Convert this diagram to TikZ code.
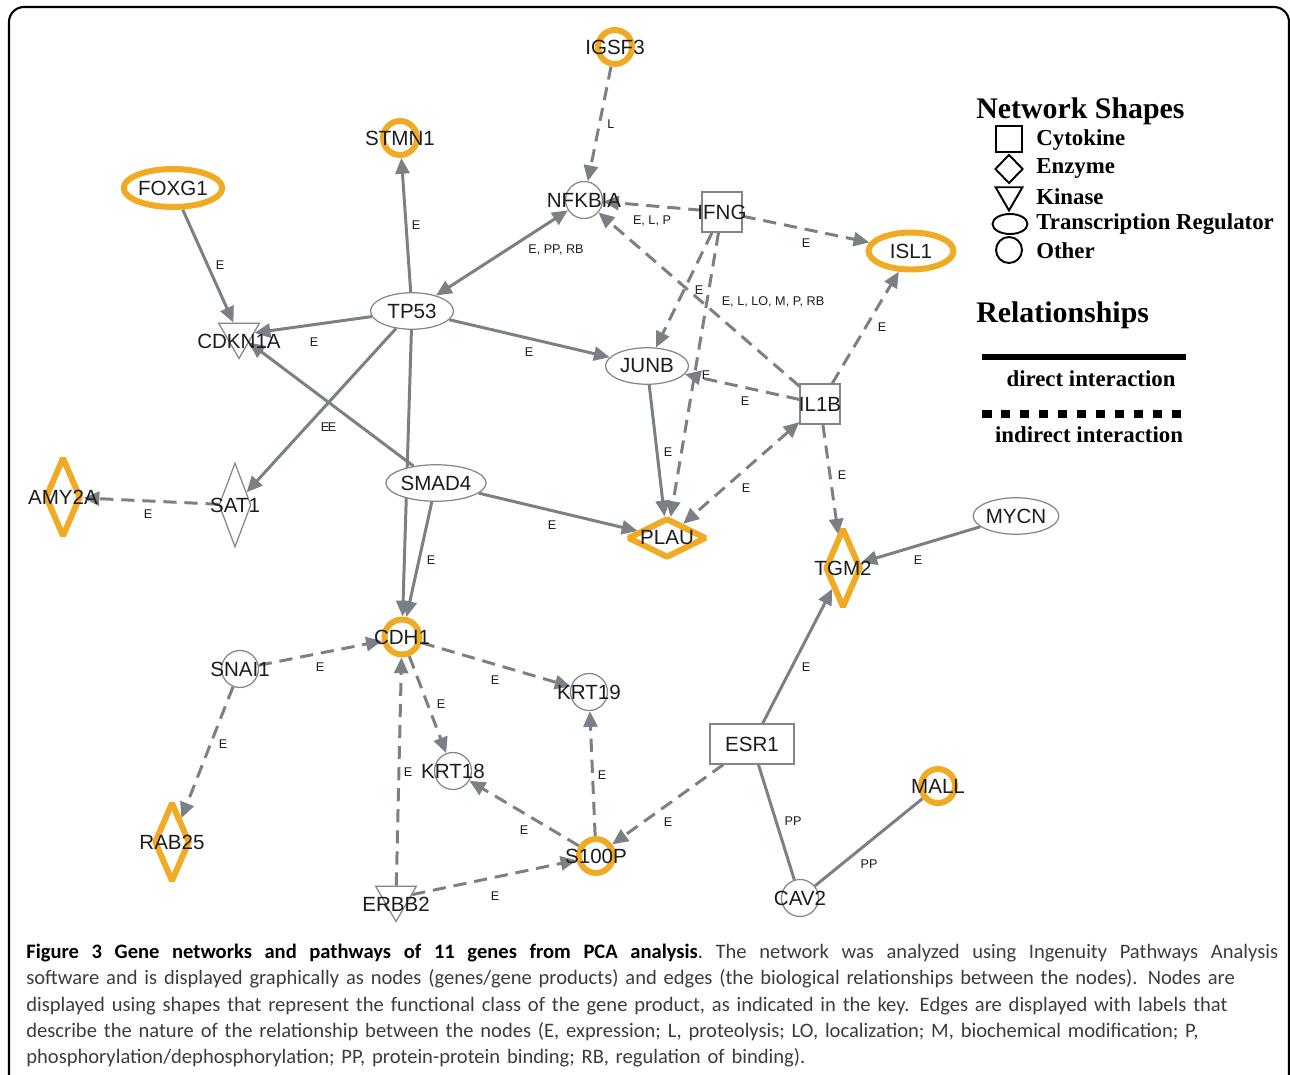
\documentclass[tikz,border=0pt]{standalone}
\usepackage{fontspec}
\setmainfont{Liberation Sans}
\newfontfamily\keyfont{Liberation Serif}
\newfontfamily\capfont{Carlito}
\usepackage{xcolor}
\usepackage{tikz}
\usetikzlibrary{shapes.geometric,arrows.meta}
\definecolor{edgegray}{RGB}{122,128,134}
\definecolor{nodegray}{RGB}{128,134,138}
\definecolor{hitorange}{RGB}{240,170,35}
\definecolor{ink}{RGB}{28,28,28}
\definecolor{capink}{RGB}{60,60,60}
\tikzstyle{gene}=[fill=white, draw=nodegray, line width=0.7pt, inner sep=0pt, text=ink, font=\fontsize{11.7}{14}\selectfont]
\tikzstyle{tf}=[gene, ellipse, minimum width=1.66cm, minimum height=0.73cm]
\tikzstyle{other}=[gene, circle, minimum size=0.74cm]
\tikzstyle{cytokine}=[gene, rectangle, minimum size=0.8cm]
\tikzstyle{enzyme}=[gene, diamond, minimum width=0.64cm, minimum height=1.68cm]
\tikzstyle{kinase}=[gene, regular polygon, regular polygon sides=3, shape border rotate=180, minimum size=0.94cm]
\tikzstyle{kinase label}=[inner sep=0pt, yshift=-0.13cm, text=ink, font=\fontsize{11.7}{14}\selectfont]
\tikzstyle{hit}=[draw=hitorange, line width=3.4pt, line join=bevel]
\tikzstyle{direct}=[draw=edgegray, line width=1.7pt, ->]
\tikzstyle{indirect}=[direct, dash pattern=on 7.5pt off 4.5pt]
\tikzstyle{elab}=[font=\fontsize{7.2}{8}\selectfont, text=ink, inner sep=0pt]
\tikzstyle{keyshape}=[draw=black, line width=1.1pt, inner sep=0pt]
\tikzstyle{keytext}=[font=\keyfont\bfseries\fontsize{13}{15}\selectfont, anchor=west, inner sep=0pt]
\tikzstyle{keyhead}=[font=\keyfont\bfseries\fontsize{17}{19}\selectfont, anchor=west, inner sep=0pt]
\pgfdeclarelayer{edgelayer}
\pgfdeclarelayer{nodelayer}
\pgfsetlayers{edgelayer,nodelayer,main}
\newcommand{\gene}[1]{\makebox[0pt]{#1}}

\begin{document}
\begin{tikzpicture}[x=0.02cm, y=-0.02cm, >={Triangle[length=9pt,width=8pt]}]
	\useasboundingbox (0,0) rectangle (1290,1074);
	\draw [line width=1.2pt, rounded corners=0.3cm] (9,7) rectangle (1289,1100);
	\begin{pgfonlayer}{nodelayer}
		\node [other, hit, minimum size=0.68cm] (igsf3) at (615,47) {\gene{IGSF3}};
		\node [other, hit, minimum size=0.68cm] (stmn1) at (400,138) {\gene{STMN1}};
		\node [tf, hit, minimum width=1.68cm, minimum height=0.76cm] (foxg1) at (173,188) {FOXG1};
		\node [other] (nfkbia) at (584,200) {\gene{NFKBIA}};
		\node [cytokine] (ifng) at (722,212) {\gene{IFNG}};
		\node [tf, hit, minimum width=1.7cm, minimum height=0.74cm] (isl1) at (911,251) {ISL1};
		\node [tf] (tp53) at (412,311) {TP53};
		\node [kinase, label={[kinase label]center:CDKN1A}] (cdkn1a) at (239,335) {};
		\node [tf] (junb) at (647,366) {JUNB};
		\node [cytokine] (il1b) at (820,404) {\gene{IL1B}};
		\node [enzyme, hit, minimum width=0.72cm, minimum height=1.6cm] (amy2a) at (63,497) {\gene{AMY2A}};
		\node [enzyme] (sat1) at (235,505) {\gene{SAT1}};
		\node [tf] (smad4) at (436,483) {SMAD4};
		\node [enzyme, hit, minimum width=1.58cm, minimum height=0.8cm] (plau) at (667,538) {\gene{PLAU}};
		\node [tf] (mycn) at (1016,516) {MYCN};
		\node [enzyme, hit, minimum width=0.72cm, minimum height=1.6cm] (tgm2) at (843,568) {\gene{TGM2}};
		\node [other, hit, minimum size=0.7cm] (cdh1) at (402,637) {\gene{CDH1}};
		\node [other] (snai1) at (240,669) {\gene{SNAI1}};
		\node [other] (krt19) at (589,692) {\gene{KRT19}};
		\node [cytokine, minimum width=1.68cm] (esr1) at (752,744) {ESR1};
		\node [other] (krt18) at (453,771) {\gene{KRT18}};
		\node [other, hit, minimum size=0.68cm] (mall) at (938,786) {\gene{MALL}};
		\node [enzyme, hit, minimum width=0.72cm, minimum height=1.6cm] (rab25) at (172,842) {\gene{RAB25}};
		\node [other, hit, minimum size=0.68cm] (s100p) at (596,856) {\gene{S100P}};
		\node [other] (cav2) at (800,898) {\gene{CAV2}};
		\node [kinase, label={[kinase label]center:ERBB2}] (erbb2) at (396,898) {};
	\end{pgfonlayer}
	\begin{pgfonlayer}{edgelayer}
		\draw [indirect] (igsf3) -- (nfkbia) node [elab] at (611,124) {L};
		\draw [direct] (tp53) -- (stmn1) node [elab] at (416,225) {E};
		\draw [direct] (foxg1) -- (cdkn1a) node [elab] at (220,265) {E};
		\draw [direct, <->] (tp53) -- (nfkbia) node [elab] at (556,250) {E, PP, RB};
		\draw [indirect] (ifng) -- (nfkbia) node [elab] at (652,221) {E, L, P};
		\draw [indirect] (ifng) -- (isl1) node [elab] at (806,243) {E};
		\draw [indirect] (ifng) -- (junb) node [elab] at (699,290) {E};
		\draw [indirect] (ifng) -- (plau) node [elab] at (706,375) {E};
		\draw [indirect] (il1b) -- (nfkbia) node [elab] at (773,302) {E, L, LO, M, P, RB};
		\draw [indirect] (il1b) -- (junb) node [elab] at (745,401) {E};
		\draw [indirect] (il1b) -- (isl1) node [elab] at (882,327) {E};
		\draw [indirect] (il1b) -- (tgm2) node [elab] at (842,475) {E};
		\draw [indirect, <->] (il1b) -- (plau) node [elab] at (746,488) {E};
		\draw [direct] (junb) -- (plau) node [elab] at (668,452) {E};
		\draw [direct] (tp53) -- (junb) node [elab] at (529,352) {E};
		\draw [direct] (tp53) -- (cdkn1a) node [elab] at (314,342) {E};
		\draw [direct] (tp53) -- (sat1) node [elab] at (325,427) {E};
		\draw [direct] (smad4) -- (cdkn1a) node [elab] at (332,427) {E};
		\draw [direct] (tp53) -- (cdh1);
		\draw [direct] (smad4) -- (cdh1) node [elab] at (431,560) {E};
		\draw [direct] (smad4) -- (plau) node [elab] at (552,525) {E};
		\draw [indirect] (sat1) -- (amy2a) node [elab] at (148,514) {E};
		\draw [direct] (mycn) -- (tgm2) node [elab] at (918,560) {E};
		\draw [direct] (esr1) -- (tgm2) node [elab] at (806,667) {E};
		\draw [indirect] (esr1) -- (s100p) node [elab] at (668,822) {E};
		\draw [direct, -] (esr1) -- (cav2) node [elab] at (793,821) {PP};
		\draw [direct, -] (cav2) -- (mall) node [elab] at (869,864) {PP};
		\draw [indirect] (snai1) -- (cdh1) node [elab] at (320,667) {E};
		\draw [indirect] (snai1) -- (rab25) node [elab] at (223,744) {E};
		\draw [indirect] (cdh1) -- (krt19) node [elab] at (495,680) {E};
		\draw [indirect] (cdh1) -- (krt18) node [elab] at (441,704) {E};
		\draw [indirect] (erbb2) -- (cdh1) node [elab] at (408,772) {E};
		\draw [indirect] (erbb2) -- (s100p) node [elab] at (495,896) {E};
		\draw [indirect] (s100p) -- (krt18) node [elab] at (524,830) {E};
		\draw [indirect] (s100p) -- (krt19) node [elab] at (602,775) {E};
	\end{pgfonlayer}
	% key
	\node [keyhead] (shapeshead) at (976,111) {Network Shapes};
	\node [keyshape, rectangle, minimum size=0.52cm] (keycyto) at (1009,139) {};
	\node [keytext] (cytotext) at (1036,140) {Cytokine};
	\node [keyshape, diamond, minimum width=0.56cm, minimum height=0.58cm] (keyenz) at (1009,169) {};
	\node [keytext] (enztext) at (1036,168) {Enzyme};
	\node [keyshape, regular polygon, regular polygon sides=3, shape border rotate=180, minimum size=0.62cm] (keykin) at (1009,195) {};
	\node [keytext] (kintext) at (1036,197) {Kinase};
	\node [keyshape, ellipse, minimum width=0.7cm, minimum height=0.4cm] (keytf) at (1010,224) {};
	\node [keytext] (tftext) at (1036,224) {Transcription Regulator};
	\node [keyshape, circle, minimum size=0.52cm] (keyother) at (1009,250) {};
	\node [keytext] (othertext) at (1036,251) {Other};
	\node [keyhead] (relhead) at (976,315) {Relationships};
	\draw [line width=3.6pt] (982,357) -- (1186,357);
	\node [keytext, anchor=center] (directtext) at (1091,379) {direct interaction};
	\draw [line width=4pt, dash pattern=on 5.4pt off 5.4pt] (982,414) -- (1190,414);
	\node [keytext, anchor=center] (indirecttext) at (1089,435) {indirect interaction};
	% caption
	\node [anchor=north west, align=left, text width=25.04cm, inner sep=0pt, text=capink, font=\capfont\fontsize{11.7}{14.9}\selectfont] (caption) at (26,944) {\hbox to 25.04cm{\spaceskip=.25em plus 2em\relax\xspaceskip=\spaceskip{\bfseries\color{black}Figure 3 Gene networks and pathways of 11 genes from PCA analysis}. The network was analyzed using Ingenuity Pathways Analysis}\\
software and is displayed graphically as nodes (genes/gene products) and edges (the biological relationships between the nodes). Nodes are\\
displayed using shapes that represent the functional class of the gene product, as indicated in the key. Edges are displayed with labels that\\
describe the nature of the relationship between the nodes (E, expression; L, proteolysis; LO, localization; M, biochemical modification; P,\\
phosphorylation/dephosphorylation; PP, protein-protein binding; RB, regulation of binding).};
\end{tikzpicture}
\end{document}
